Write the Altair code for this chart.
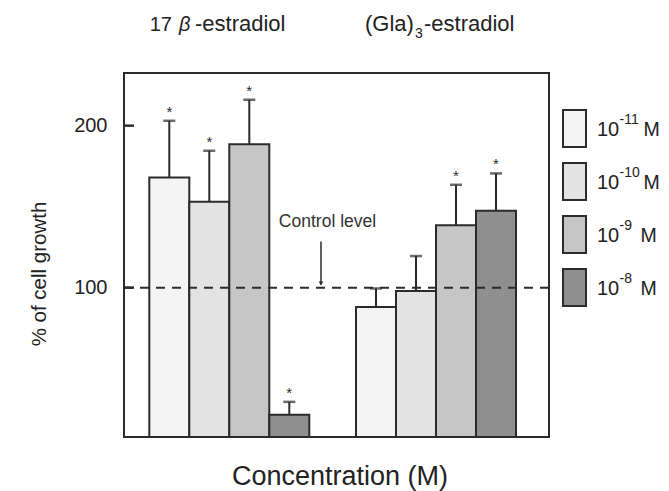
import altair as alt
import pandas as pd

groups = ["17β-estradiol", "(Gla)3-estradiol"]
concs = ["10^-11 M", "10^-10 M", "10^-9 M", "10^-8 M"]
conc_exponents = ["-11", "-10", "-9", "-8"]
e2_values = [168, 153, 188.5, 21.5]
e2_upper = [203, 184.5, 216, 29.5]
e2_sig = [True, True, True, True]
gla_values = [88, 98, 138.5, 147.5]
gla_upper = [99.5, 119.5, 163.5, 170.5]
gla_sig = [False, False, True, True]
bar_colors = ["#f4f4f4", "#e3e3e3", "#c6c6c6", "#8f8f8f"]
y_ticks = [100, 200]
control_level = 100
y_domain = [7.8, 232.5]

rows = []
for g, vals, ups, sigs in [(groups[0], e2_values, e2_upper, e2_sig),
                           (groups[1], gla_values, gla_upper, gla_sig)]:
    for c, v, u, s in zip(concs, vals, ups, sigs):
        rows.append({"group": g, "conc": c, "value": v, "upper": u, "sig": s})
df = pd.DataFrame(rows)

FONT = "Liberation Sans"
DARK = "#2b2b2b"
TXT = "#222"

xenc = alt.X("group:N", sort=groups, axis=None,
             scale=alt.Scale(paddingInner=0.226, paddingOuter=0.141, align=0.434))
xoff = alt.XOffset("conc:N", sort=concs, scale=alt.Scale(paddingInner=0, paddingOuter=0))
yscale = alt.Scale(domain=y_domain, nice=False, zero=False)

base = alt.Chart(df)

bars = base.mark_bar(stroke=DARK, strokeWidth=2).encode(
    x=xenc, xOffset=xoff,
    y=alt.Y("value:Q", scale=yscale,
            axis=alt.Axis(values=y_ticks, ticks=False, domain=False, grid=False,
                          labelFontSize=20, labelFont=FONT, labelColor=TXT,
                          labelPadding=17, title=None)),
    y2=alt.datum(y_domain[0]),
    fill=alt.Fill("conc:N", sort=concs,
                  scale=alt.Scale(domain=concs, range=bar_colors), legend=None),
)

err = base.mark_rule(color=DARK, strokeWidth=2).encode(
    x=xenc, xOffset=xoff, y=alt.Y("value:Q", scale=yscale), y2="upper:Q")
caps = base.mark_tick(color=DARK, thickness=2.5, size=12).encode(
    x=xenc, xOffset=xoff, y=alt.Y("upper:Q", scale=yscale))
stars = base.transform_filter("datum.sig").mark_text(
    text="*", dy=-9, fontSize=15, font=FONT, color=DARK).encode(
    x=xenc, xOffset=xoff, y=alt.Y("upper:Q", scale=yscale))

dash = alt.Chart(pd.DataFrame({"v": [control_level]})).mark_rule(
    color=DARK, strokeWidth=2, strokeDash=[9, 7]).encode(y=alt.Y("v:Q", scale=yscale))

ticks = alt.Chart(pd.DataFrame({"v": y_ticks})).mark_rule(
    color=DARK, strokeWidth=2.5).encode(
    y=alt.Y("v:Q", scale=yscale), x=alt.value(0), x2=alt.value(10))

arrow = alt.Chart(pd.DataFrame({"a": [128.5], "b": [102]})).mark_rule(
    color=DARK, strokeWidth=1.5).encode(
    x=alt.value(197), y=alt.Y("a:Q", scale=yscale), y2="b:Q")
arrowhead = alt.Chart(pd.DataFrame({"b": [102.5]})).mark_point(
    shape="triangle-down", filled=True, size=22, color=DARK, opacity=1).encode(
    x=alt.value(197), y=alt.Y("b:Q", scale=yscale))
ctrl = alt.Chart(pd.DataFrame({"t": ["Control level"], "v": [140.5]})).mark_text(
    fontSize=17.5, font=FONT, color="#333", align="center", baseline="middle").encode(
    x=alt.value(203.5), y=alt.Y("v:Q", scale=yscale), text="t:N")


def label(txt, x, y, size=20, align="left", style="normal", baseline="alphabetic", angle=0):
    return alt.Chart(pd.DataFrame({"t": [txt]})).mark_text(
        fontSize=size, font=FONT, color=TXT, align=align, baseline=baseline,
        fontStyle=style, angle=angle).encode(
        x=alt.value(x), y=alt.value(y), text="t:N")


titles = [
    label("17", 48, -42, align="right"),
    label("β", 55, -42, style="italic"),
    label("-estradiol", 71, -42, size=22),
    label("(Gla)", 241, -42, size=22),
    label("3", 291, -35, size=14),
    label("-estradiol", 300, -42, size=22),
    label("% of cell growth", -84, 201, size=20.5, align="center", baseline="middle", angle=270),
    label("Concentration (M)", 216, 412, size=27, align="center"),
]

# legend built from marks
legend_layers = []
box_top = 37
row_step = 53
for i, (col, ex) in enumerate(zip(bar_colors, conc_exponents)):
    top = box_top + i * row_step
    legend_layers.append(
        alt.Chart(pd.DataFrame({"c": [concs[i]]})).mark_rect(
            stroke=DARK, strokeWidth=2).encode(
            x=alt.value(439), x2=alt.value(462), y=alt.value(top), y2=alt.value(top + 37),
            fill=alt.value(col)))
    bl = top + 18.5 + 7.2
    legend_layers.append(label("10", 473, bl, size=20))
    legend_layers.append(label(ex, 495.5, bl - 11.4, size=14))
    legend_layers.append(label("M", 519.5 if len(ex) == 3 else 516.5, bl, size=19.5))

chart = alt.layer(bars, dash, err, caps, stars, ticks, arrow, arrowhead, ctrl,
                  *titles, *legend_layers).properties(
    width=425, height=364,
    autosize=alt.AutoSizeParams(type="none"),
    padding={"left": 116, "top": 65, "right": 112, "bottom": 54},
).configure(background="white").configure_view(stroke=DARK, strokeWidth=2)

chart.save("out.html", embed_options={"renderer": "svg", "actions": False})
